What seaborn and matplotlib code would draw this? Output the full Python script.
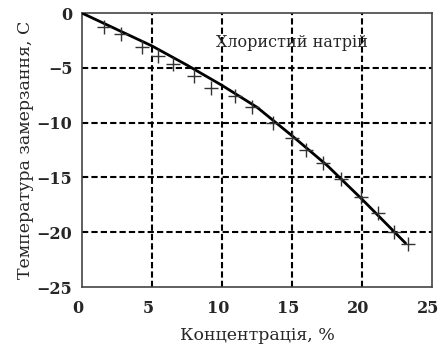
import numpy as np
import pandas as pd
import seaborn as sns
import matplotlib
matplotlib.use("Agg")
import matplotlib.pyplot as plt
import matplotlib.transforms as mtransforms

# measured points (concentration %, freezing temperature C)
conc = [1.6, 2.8, 4.3, 5.4, 6.5, 8.0, 9.2, 10.9, 12.1, 13.6, 15.0, 16.0, 17.2, 18.5, 19.9, 21.1, 22.3, 23.3]
temp = [-1.3, -1.9, -3.1, -3.9, -4.6, -5.7, -6.8, -7.6, -8.6, -10.0, -11.4, -12.5, -13.7, -15.1, -16.8, -18.2, -20.0, -21.1]

# fitted curve
line_x = [0, 2.5, 5, 7.5, 10, 12.5, 15, 17.5, 20, 23.1]
line_y = [0, -1.5, -3.0, -4.75, -6.6, -8.6, -11.2, -13.9, -17.0, -21.0]

x_ticks = [0, 5, 10, 15, 20, 25]
y_ticks = [0, -5, -10, -15, -20, -25]

sns.set_style("white")
plt.rcParams['font.family'] = ['DejaVu Serif']

fig = plt.figure(figsize=(4.41, 3.45), dpi=100)
ax = fig.add_axes([0.186, 0.168, 0.794, 0.794])

pts = pd.DataFrame({"x": conc, "y": temp})
curve = pd.DataFrame({"x": line_x, "y": line_y})

sns.lineplot(data=curve, x="x", y="y", ax=ax, color="black", linewidth=2, zorder=3)
sns.scatterplot(data=pts, x="x", y="y", ax=ax, marker="+", s=110, color="#333333",
                linewidth=1.0, zorder=4)

ax.set_xlim(0, 25)
ax.set_ylim(-25, 0)
ax.set_xticks(x_ticks)
ax.set_yticks(y_ticks)
ax.set_xticklabels([str(v) for v in x_ticks], fontsize=11.5, fontweight="bold")
ax.set_yticklabels([str(v).replace("-", "\u2212") for v in y_ticks], fontsize=11.5, fontweight="bold")
ax.tick_params(axis="x", length=0, pad=9)
ax.tick_params(axis="y", length=0, pad=7)

# labels in the reference sit slightly left of their grid lines
shift = mtransforms.ScaledTranslation(-4 / 100, 0, fig.dpi_scale_trans)
for lab in ax.get_xticklabels():
    lab.set_transform(lab.get_transform() + shift)

for v in [5, 10, 15, 20]:
    ax.axvline(v, color="black", linestyle=(0, (3, 1.5)), linewidth=1.5, zorder=1)
for v in [-5, -10, -15, -20]:
    ax.axhline(v, color="black", linestyle=(0, (3, 1.5)), linewidth=1.5, zorder=1)

for s in ax.spines.values():
    s.set_color("#444444")
    s.set_linewidth(1.2)

ax.text(9.6, -2.7, "Хлористий натрій", fontsize=11.5, va="center", ha="left")
ax.set_xlabel("Концентрація, %", fontsize=12.5, labelpad=7.5)
ax.set_ylabel("Температура замерзання, C", fontsize=12.5, labelpad=2)

fig.savefig("out.png", dpi=100)
